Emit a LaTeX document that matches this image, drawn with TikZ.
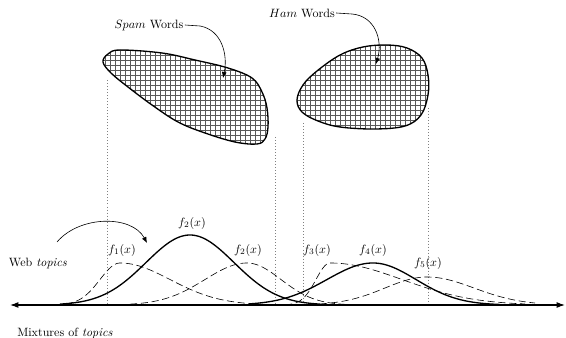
\documentclass[tikz,border=0pt]{standalone}
\usetikzlibrary{arrows.meta}
\pgfmathdeclarefunction{sg}{5}{%
  \begingroup
  \pgfmathsetmacro\sgu{(#1-#3)/((#1<#3)?#4:#5)}%
  \pgfmathparse{#2*exp(-0.5*(\sgu)*(\sgu))}%
  \pgfmathsmuggle\pgfmathresult
  \endgroup}
\begin{document}
\begin{tikzpicture}[x=0.83pt,y=-0.83pt,
  lbl/.style={inner sep=1pt},
  density/.style={line width=1.1pt},
  comp/.style={line width=0.5pt, dash pattern=on 6pt off 3pt},
  guide/.style={dotted, black!50, line width=0.5pt},
  blob/.style={line width=1.1pt},
  gridline/.style={line width=0.3pt, black!65},
  ptr/.style={line width=0.5pt,-{Latex[length=5pt,width=4pt]}},
  axis/.style={line width=1pt,{Latex[length=7pt,width=5pt]}-{Latex[length=7pt,width=5pt]}}]
\useasboundingbox (0,0) rectangle (566,338);

% guide lines
\coordinate (g1t) at (107,80);  \coordinate (g1b) at (107,305);
\coordinate (g2t) at (275,137); \coordinate (g2b) at (275,305);
\coordinate (g3t) at (303,123); \coordinate (g3b) at (303,305);
\coordinate (g4t) at (428,108); \coordinate (g4b) at (428,305);
\draw[guide] (g1t) -- (g1b);
\draw[guide] (g2t) -- (g2b);
\draw[guide] (g3t) -- (g3b);
\draw[guide] (g4t) -- (g4b);

% Spam blob
\def\spamblob{plot[smooth cycle, tension=0.6] coordinates {(103,62) (108,54) (120,50) (162,53) (195,60) (228,68) (252,78) (262,92) (267,108) (268,127) (265,139) (257,144) (235,142) (205,133) (178,122) (152,105) (128,87) (111,73)}}
\begin{scope}
  \clip \spamblob;
  \foreach \gx in {100,105,...,275} \draw[gridline] (\gx,40) -- (\gx,150);
  \foreach \gy in {45,50,...,150} \draw[gridline] (95,\gy) -- (275,\gy);
\end{scope}
\draw[blob] \spamblob;

% Ham blob
\def\hamblob{plot[smooth cycle, tension=0.6] coordinates {(297,100) (303,85) (317,71) (340,55) (363,47) (387,45) (407,48) (422,58) (428,75) (428,95) (421,115) (405,126) (375,129) (340,127) (318,121) (302,112)}}
\begin{scope}
  \clip \hamblob;
  \foreach \gx in {295,300,...,430} \draw[gridline] (\gx,40) -- (\gx,135);
  \foreach \gy in {40,45,...,135} \draw[gridline] (290,\gy) -- (435,\gy);
\end{scope}
\draw[blob] \hamblob;

% labels and pointers
\node[lbl] (spamlbl) at (149,25) {$Spam$ Words};
\node[lbl] (hamlbl) at (302,13) {$Ham$ Words};
\coordinate (spambend) at (200,26);
\coordinate (spamtip) at (223,78);
\coordinate (hambend) at (352,14);
\coordinate (hamtip) at (376,64);
\draw[ptr] (spamlbl.east) -- (spambend) .. controls (222,30) and (228,55) .. (spamtip);
\draw[ptr] (hamlbl.east) -- (hambend) .. controls (375,16) and (383,40) .. (hamtip);

\node[lbl] (web) at (38,263) {Web \textit{topics}};
\node[lbl] (mix) at (65,333) {Mixtures of \textit{topics}};
\coordinate (webstart) at (57,242);
\coordinate (webtip) at (147,243);
\draw[ptr] (webstart) .. controls (80,215) and (132,215) .. (webtip);

% axis
\coordinate (axL) at (10,305);
\coordinate (axR) at (565,305);
\draw[axis] (axL) -- (axR);

% component densities
\draw[comp] plot[domain=55:300, samples=120] (\x, {305-sg(\x,42,120,20,50)});
\draw[comp] plot[domain=130:345, samples=120] (\x, {305-sg(\x,42,247,42,34)});
\draw[comp] plot[domain=285:525, samples=140] (\x, {305-sg(\x,42,330,14,72)});
\draw[comp] plot[domain=320:535, samples=120] (\x, {305-sg(\x,28,427,42,47)});
\draw[density] plot[domain=60:320, samples=120] (\x, {305-sg(\x,70,190,44,44)});
\draw[density] plot[domain=250:500, samples=120] (\x, {305-sg(\x,42,373,46,43)});

% function labels
\node[lbl] (f2top) at (192,223) {$f_2(x)$};
\node[lbl] (f1) at (122,250) {$f_1(x)$};
\node[lbl] (f2b) at (248,250) {$f_2(x)$};
\node[lbl] (f3) at (317,250) {$f_3(x)$};
\node[lbl] (f4) at (373,250) {$f_4(x)$};
\node[lbl] (f5) at (428,263) {$f_5(x)$};
\end{tikzpicture}
\end{document}
